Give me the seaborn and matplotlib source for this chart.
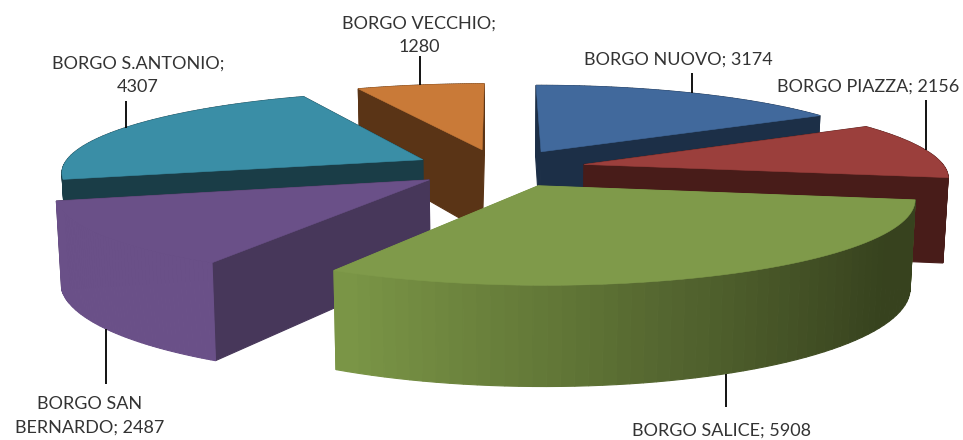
import numpy as np
import matplotlib
matplotlib.use("Agg")
import matplotlib.pyplot as plt
from matplotlib.colors import to_rgb
import seaborn as sns

categories = ["BORGO NUOVO", "BORGO PIAZZA", "BORGO SALICE",
              "BORGO SAN BERNARDO", "BORGO S.ANTONIO", "BORGO VECCHIO"]
values = [3174, 2156, 5908, 2487, 4307, 1280]

label_texts = ["BORGO NUOVO; 3174", "BORGO PIAZZA; 2156", "BORGO SALICE; 5908",
               "BORGO SAN\nBERNARDO; 2487", "BORGO S.ANTONIO;\n4307", "BORGO VECCHIO;\n1280"]
label_pos = [(678, 60), (868, 87), (722, 431), (90, 416), (138, 75), (419, 35)]
leader_len = [20, 50, 33, 55, 27, 29]
leader_down = [False, False, True, True, False, False]

top_colors = sns.color_palette(["#41699c", "#9b3f3c", "#7f9a4a", "#6a5088", "#3a8ea6", "#c97a38"])
side_colors = sns.color_palette(["#1c2f47", "#481c19", "#7a9546", "#47375a", "#1a3d47", "#5a3416"])

sns.set_theme(style="white")
plt.rcParams['font.family'] = ['Lato', 'DejaVu Sans']

# projection parameters
CX, CY, RX, RY, PERSP, DEPTH, EXPLODE, TAPER = 499.5, 168, 361, 80, 0.14, 84, 0.24, 0.012


def project(X, Y, z=0.0):
    s = 1.0 / (1.0 + PERSP * Y)
    k = 1 - TAPER * z
    x = CX + RX * X * s * k
    y = CY - RY * Y * s + DEPTH * s * z
    return np.column_stack([np.atleast_1d(x), np.atleast_1d(y)])


fig = plt.figure(figsize=(9.63, 4.40), dpi=100)
ax = fig.add_axes([0, 0, 1, 1])
ax.set_xlim(0, 963)
ax.set_ylim(440, 0)
ax.axis("off")

vals = np.array(values, float)
edges = np.concatenate([[0], np.cumsum(vals)]) / vals.sum() * 2 * np.pi
mids = (edges[:-1] + edges[1:]) / 2
order = [5, 0, 4, 1, 3, 2]   # far wedges first

for i in order:
    t = np.linspace(edges[i], edges[i + 1], 60)
    ox, oy = EXPLODE * np.sin(mids[i]), EXPLODE * np.cos(mids[i])
    X, Y = ox + np.sin(t), oy + np.cos(t)
    faces = []
    # two radial walls
    for end in (0, -1):
        xs, ys = np.array([ox, X[end]]), np.array([oy, Y[end]])
        poly = np.vstack([project(xs, ys, 0), project(xs[::-1], ys[::-1], 1)])
        faces.append((ys.mean(), poly, side_colors[i]))
    # outer arc wall, shaded by the facing direction
    base = np.array(to_rgb(top_colors[i]))
    dark = np.array(to_rgb(side_colors[i]))
    for j in range(len(t) - 1):
        xs, ys = X[j:j + 2], Y[j:j + 2]
        poly = np.vstack([project(xs, ys, 0), project(xs[::-1], ys[::-1], 1)])
        nx = np.sin((t[j] + t[j + 1]) / 2)
        if i in (2, 3):
            low = np.array(to_rgb("#37421e")) if i == 2 else base * 0.93
            hi = np.array(to_rgb(side_colors[i])) if i == 2 else base
            f = np.clip((nx + 0.45) / 1.3, 0, 1)
            col = hi * (1 - f) + low * f
        else:
            col = dark
        faces.append((ys.mean(), poly, tuple(col)))
    for _, poly, col in sorted(faces, key=lambda f: -f[0]):
        ax.fill(poly[:, 0], poly[:, 1], color=col, lw=0.8, zorder=1)
    top = project(np.r_[ox, X], np.r_[oy, Y], 0)
    ax.fill(top[:, 0], top[:, 1], color=top_colors[i], lw=0.4, zorder=1)

for i in range(len(values)):
    ox, oy = EXPLODE * np.sin(mids[i]), EXPLODE * np.cos(mids[i])
    X, Y = ox + np.sin(mids[i]), oy + np.cos(mids[i])
    p = project(X, Y, 1 if leader_down[i] else 0)[0]
    y1 = p[1] + leader_len[i] * (1 if leader_down[i] else -1)
    ax.plot([p[0], p[0]], [p[1], y1], color="black", lw=1.3, zorder=2, solid_capstyle="butt")
    ax.text(*label_pos[i], label_texts[i], ha="center", va="center", fontsize=13,
            color="#333333", linespacing=1.55, zorder=3)

fig.savefig("out.png", dpi=100)
